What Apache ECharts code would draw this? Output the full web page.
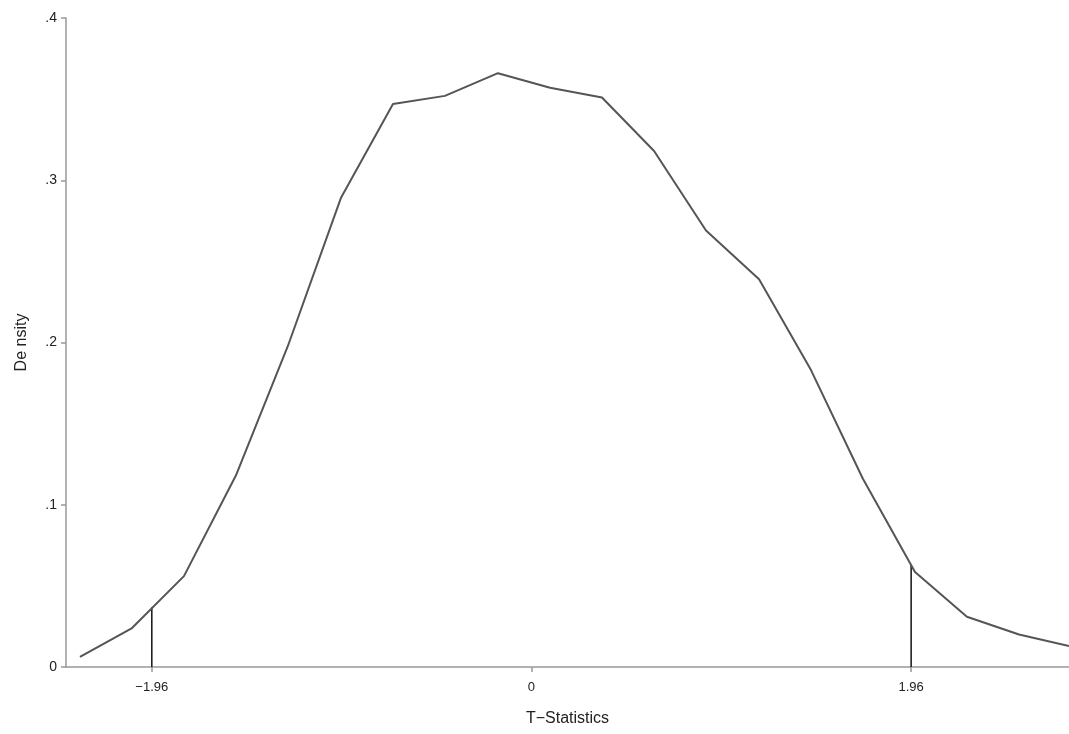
<!DOCTYPE html>
<html>
<head>
<meta charset="utf-8">
<script src="https://cdn.jsdelivr.net/npm/echarts@6/dist/echarts.min.js"></script>
<style>
  html, body { margin: 0; padding: 0; background: #fff; }
  #chartContainer { width: 1069px; height: 734px; }
</style>
</head>
<body>
<div id="chartContainer"></div>
<script>
// density curve
const tStats = [-2.331, -2.062, -1.794, -1.526, -1.257, -0.984, -0.715, -0.447, -0.173, 0.096,
    0.364, 0.633, 0.901, 1.175, 1.443, 1.711, 1.980, 2.248, 2.517, 2.775];
const density = [0.0062, 0.024, 0.056, 0.118, 0.198, 0.289, 0.347, 0.352, 0.366, 0.357,
    0.351, 0.318, 0.269, 0.239, 0.183, 0.116, 0.0585, 0.031, 0.020, 0.013];

// critical values and the height of the curve there
const critX = [-1.96, 1.96];
const critY = [0.0368, 0.0629];

const xTicks = [-1.96, 0, 1.96];
const yTicks = [0, 0.1, 0.2, 0.3, 0.4];

let chart = null;

document.addEventListener('DOMContentLoaded', function() {
    chart = echarts.init(document.getElementById('chartContainer'));

    const series = [{
        type: 'line',
        data: tStats.map((x, i) => [x, density[i]]),
        symbol: 'none',
        lineStyle: { color: '#555', width: 2 },
        z: 3
    }];

    critX.forEach((x, i) => {
        series.push({
            type: 'line',
            data: [[x, 0], [x, critY[i]]],
            symbol: 'none',
            lineStyle: { color: '#111', width: 1.5 },
            z: 2
        });
    });

    const option = {
        animation: false,
        grid: { left: 66, right: 0, top: 18, bottom: 67 },
        xAxis: {
            type: 'value',
            min: -2.403,
            max: 2.775,
            name: 'T\u2212Statistics',
            nameLocation: 'middle',
            nameGap: 44,
            nameTextStyle: { fontFamily: 'Liberation Sans', fontSize: 16, color: '#222' },
            axisLine: { show: true, onZero: false, lineStyle: { color: '#999', width: 1.5 } },
            axisTick: { show: true, length: 5, customValues: xTicks, lineStyle: { color: '#999', width: 1.5 } },
            axisLabel: {
                customValues: xTicks,
                formatter: v => (v < 0 ? '\u2212' : '') + (v === 0 ? '0' : Math.abs(v).toFixed(2)),
                fontFamily: 'Liberation Sans', fontSize: 13, color: '#222', margin: 14
            },
            splitLine: { show: false }
        },
        yAxis: {
            type: 'value',
            min: 0,
            max: 0.4,
            interval: 0.1,
            name: 'De nsity',
            nameLocation: 'middle',
            nameGap: 36,
            nameTextStyle: { fontFamily: 'Liberation Sans', fontSize: 16, color: '#222' },
            axisLine: { show: true, onZero: false, lineStyle: { color: '#999', width: 1.5 } },
            axisTick: { show: true, length: 5, lineStyle: { color: '#999', width: 1.5 } },
            axisLabel: {
                formatter: v => v === 0 ? '0' : v.toFixed(1).replace(/^0/, ''),
                fontFamily: 'Liberation Sans', fontSize: 14, color: '#222', margin: 9
            },
            splitLine: { show: false }
        },
        series
    };

    chart.setOption(option);
});
</script>
</body>
</html>
